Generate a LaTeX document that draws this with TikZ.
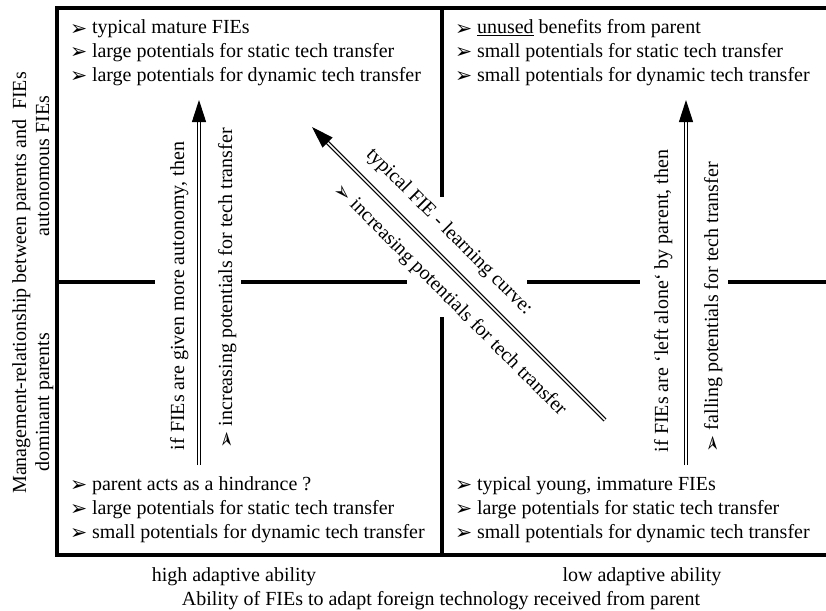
\documentclass[tikz,border=0pt]{standalone}
\usepackage{fontspec}
\setmainfont{Liberation Serif}
\newfontfamily\dvfont{DejaVu Sans}
\usetikzlibrary{arrows.meta,calc}
\newcommand{\bl}{\makebox[22pt][l]{\raisebox{-1.2pt}{\fontsize{20.5}{20.5}\dvfont ➢}}}
\tikzset{
  frameline/.style={line width=3.5pt, line join=miter},
  shaft/.style={double=white, double distance=1.6pt, line width=1.2pt},
  headtip/.style={-{Triangle[length=22pt,width=14pt]}, line width=1pt},
  lbl/.style={font=\fontsize{20}{24}\selectfont, inner sep=0pt, outer sep=0pt},
}
\begin{document}
\begin{tikzpicture}[x=1pt,y=1pt]
\useasboundingbox (0,0) rectangle (826,-610);
% frame
\draw[frameline] (830,-8) -- (57,-8) -- (57,-555) -- (830,-555);
\draw[frameline] (442,-8) -- (442,-197);
\draw[frameline] (442,-317) -- (442,-555);
\draw[frameline] (57,-282) -- (155,-282);
\draw[frameline] (241,-282) -- (407,-282);
\draw[frameline] (527,-282) -- (640,-282);
\draw[frameline] (728,-282) -- (830,-282);
% quadrant texts
\node[lbl, anchor=base west] (tl1) at (70,-34) {\bl typical mature FIEs};
\node[lbl, anchor=base west] (tl2) at (70,-57.5) {\bl large potentials for static tech transfer};
\node[lbl, anchor=base west] (tl3) at (70,-81) {\bl large potentials for dynamic tech transfer};
\node[lbl, anchor=base west] (tr1) at (455,-34) {\bl \underline{unused} benefits from parent};
\node[lbl, anchor=base west] (tr2) at (455,-57.5) {\bl small potentials for static tech transfer};
\node[lbl, anchor=base west] (tr3) at (455,-81) {\bl small potentials for dynamic tech transfer};
\node[lbl, anchor=base west] (bl1) at (70,-490) {\bl parent acts as a hindrance ?};
\node[lbl, anchor=base west] (bl2) at (70,-514) {\bl large potentials for static tech transfer};
\node[lbl, anchor=base west] (bl3) at (70,-538) {\bl small potentials for dynamic tech transfer};
\node[lbl, anchor=base west] (br1) at (455,-490) {\bl typical young, immature FIEs};
\node[lbl, anchor=base west] (br2) at (455,-514) {\bl large potentials for static tech transfer};
\node[lbl, anchor=base west] (br3) at (455,-538) {\bl small potentials for dynamic tech transfer};
% arrows
\coordinate (La) at (199,-465); \coordinate (Lb) at (199,-100);
\coordinate (Ra) at (686,-465); \coordinate (Rb) at (686,-100);
\coordinate (Da) at (605,-420); \coordinate (Db) at (312,-127);
\foreach \s/\t in {La/Lb, Ra/Rb, Da/Db}{
  \draw[shaft] (\s) -- ($(\t)!19pt!(\s)$);
  \draw[headtip] ($(\t)!20pt!(\s)$) -- (\t);
}
% arrow labels
\node[lbl, rotate=90, anchor=base west] (lv1) at (184,-450) {if FIEs are given more autonomy, then};
\node[lbl, rotate=90, anchor=base west] (lv2) at (232,-448) {\bl increasing potentials for tech transfer};
\node[lbl, rotate=90, anchor=base west] (rv1) at (668,-452) {if FIEs are ‘left alone‘ by parent, then};
\node[lbl, rotate=90, anchor=base west] (rv2) at (718,-452) {\bl falling potentials for tech transfer};
\node[lbl, rotate=-45] (d1) at (449,-232) {typical FIE - learning curve:};
\node[lbl, rotate=-45] (d2) at (450,-300) {\bl increasing potentials for tech transfer};
% axes
\node[lbl, rotate=90, anchor=base] (ax1) at (26,-283) {Management-relationship between parents and~~FIEs};
\node[lbl, rotate=90, anchor=base] (ax2) at (49,-166) {autonomous FIEs};
\node[lbl, rotate=90, anchor=base] (ax3) at (49,-402) {dominant parents};
\node[lbl, anchor=base] (bx1) at (234,-581) {high adaptive ability};
\node[lbl, anchor=base] (bx2) at (642,-581) {low adaptive ability};
\node[lbl, anchor=base] (bx3) at (441,-605) {Ability of FIEs to adapt foreign technology received from parent};
\end{tikzpicture}
\end{document}
